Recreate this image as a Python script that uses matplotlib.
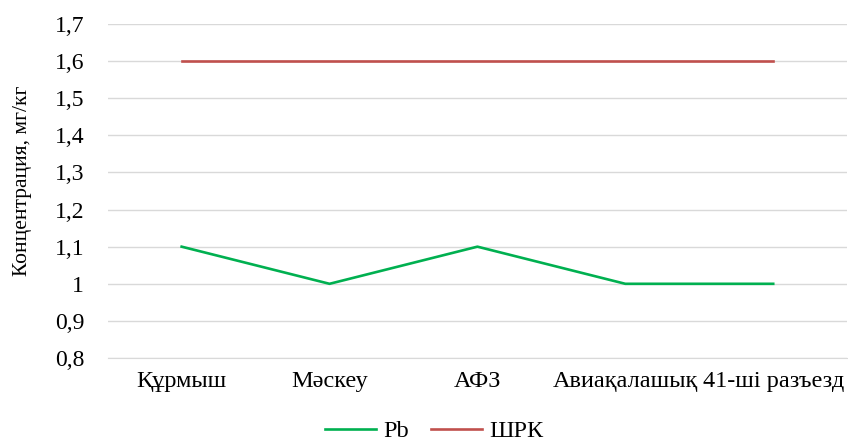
import matplotlib
matplotlib.use("Agg")
import matplotlib.pyplot as plt

categories = ["Құрмыш", "Мәскеу", "АФЗ", "Авиақалашық", "41-ші разъезд"]
pb_values = [1.1, 1.0, 1.1, 1.0, 1.0]
shrk_values = [1.6, 1.6, 1.6, 1.6, 1.6]
y_ticks = [0.8, 0.9, 1.0, 1.1, 1.2, 1.3, 1.4, 1.5, 1.6, 1.7]
y_tick_labels = ["0,8", "0,9", "1", "1,1", "1,2", "1,3", "1,4", "1,5", "1,6", "1,7"]

plt.rcParams["font.family"] = ["Liberation Serif", "DejaVu Serif"]

fig = plt.figure(figsize=(8.48, 4.41), dpi=100)
ax = fig.add_axes([0.127, 0.188, 0.872, 0.758])

x = list(range(len(categories)))
ax.plot(x, pb_values, color="#00B050", lw=1.9, label="Pb", solid_joinstyle="round")
ax.plot(x, shrk_values, color="#C0504D", lw=1.9, label="ШРК")

ax.set_xlim(-0.5, len(categories) - 0.5)
ax.set_ylim(0.8, 1.7)
ax.set_yticks(y_ticks)
ax.set_yticklabels(y_tick_labels, fontsize=17)
ax.set_xticks(x)
ax.set_xticklabels(categories, fontsize=17.5)
ax.tick_params(axis="both", length=0, colors="#000000")
ax.tick_params(axis="y", pad=17)
ax.tick_params(axis="x", pad=9)

ax.grid(axis="y", color="#D9D9D9", lw=1.0)
ax.set_axisbelow(True)
for side in ["top", "right", "left"]:
    ax.spines[side].set_visible(False)
ax.spines["bottom"].set_color("#D9D9D9")

ax.set_ylabel("Концентрация, мг/кг", fontsize=15.5)
ax.yaxis.set_label_coords(-0.103, 0.53)

fig.legend(loc="center", bbox_to_anchor=(0.512, 0.022), ncol=2, frameon=False,
           fontsize=17.5, handlelength=2.1, columnspacing=0.9, handletextpad=0.3,
           borderpad=0.1)

fig.savefig("out.png", dpi=100)
